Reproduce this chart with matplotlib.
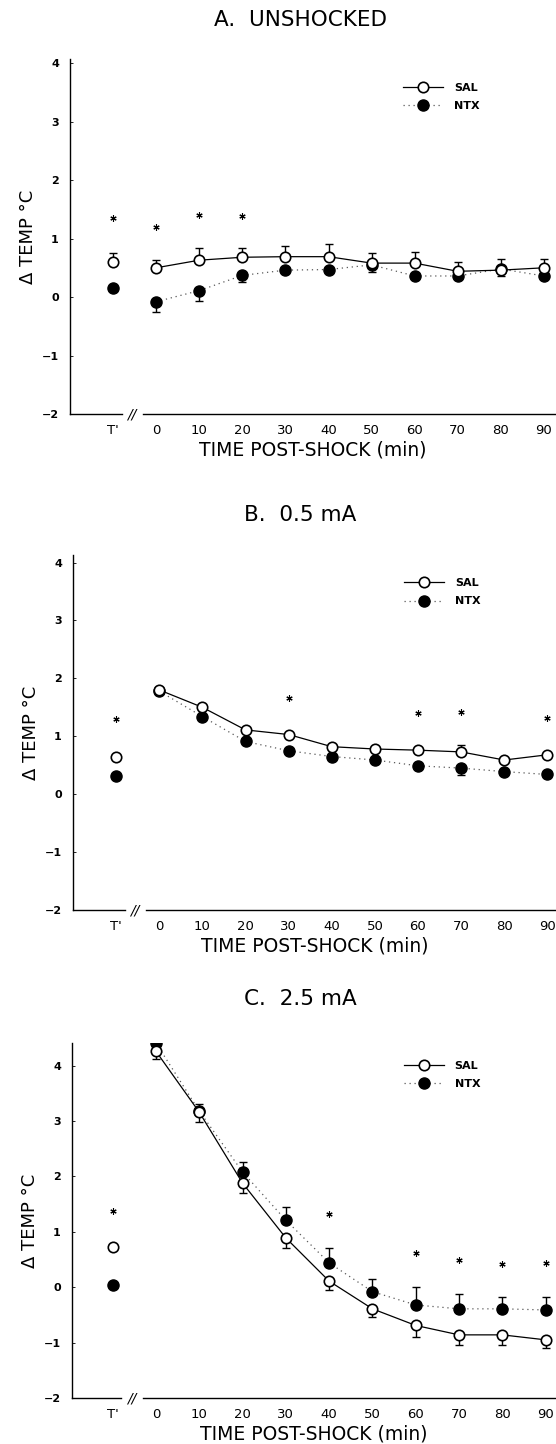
import numpy as np
import matplotlib
matplotlib.use("Agg")
import matplotlib.pyplot as plt
from matplotlib.lines import Line2D

plt.rcParams['font.family'] = ['DejaVu Sans']

# x positions: T' baseline drawn at -10, then 0..90 min post-shock
times = [-10, 0, 10, 20, 30, 40, 50, 60, 70, 80, 90]
tick_labels = ["T'", "0", "10", "20", "30", "40", "50", "60", "70", "80", "90"]

# Panel A - unshocked
a_sal = [0.60, 0.50, 0.63, 0.68, 0.69, 0.69, 0.58, 0.58, 0.44, 0.46, 0.50]
a_sal_err = [0.16, 0.13, 0.20, 0.15, 0.18, 0.21, 0.18, 0.19, 0.16, 0.19, 0.15]
a_ntx = [0.15, -0.08, 0.11, 0.37, 0.46, 0.47, 0.55, 0.36, 0.36, 0.48, 0.36]
a_ntx_err = [0.04, 0.17, 0.17, 0.11, 0.04, 0.04, 0.13, 0.04, 0.04, 0.12, 0.04]
a_star_t = [-10, 0, 10, 20]
a_star_y = [1.35, 1.20, 1.41, 1.38]

# Panel B - 0.5 mA
b_sal = [0.65, 1.80, 1.50, 1.11, 1.03, 0.82, 0.78, 0.76, 0.73, 0.59, 0.68]
b_sal_err = [0.03, 0.03, 0.03, 0.03, 0.03, 0.03, 0.03, 0.03, 0.12, 0.03, 0.03]
b_ntx = [0.31, 1.78, 1.34, 0.91, 0.75, 0.65, 0.59, 0.49, 0.45, 0.39, 0.34]
b_ntx_err = [0.03, 0.03, 0.03, 0.03, 0.03, 0.03, 0.03, 0.03, 0.12, 0.03, 0.03]
b_star_t = [-10, 30, 60, 70, 90]
b_star_y = [1.30, 1.66, 1.40, 1.42, 1.31]

# Panel C - 2.5 mA
c_sal = [0.73, 4.26, 3.16, 1.88, 0.89, 0.11, -0.39, -0.69, -0.86, -0.86, -0.95]
c_sal_err = [0.03, 0.14, 0.17, 0.17, 0.18, 0.16, 0.15, 0.21, 0.18, 0.18, 0.15]
c_ntx = [0.04, 4.41, 3.18, 2.08, 1.21, 0.44, -0.08, -0.32, -0.39, -0.39, -0.41]
c_ntx_err = [0.03, 0.03, 0.12, 0.18, 0.23, 0.27, 0.23, 0.33, 0.27, 0.21, 0.23]
c_star_t = [-10, 40, 60, 70, 80, 90]
c_star_y = [1.38, 1.32, 0.62, 0.50, 0.42, 0.43]

W, H = 556, 1444
fig = plt.figure(figsize=(W / 100, H / 100), dpi=100)


def make_panel(rect_px, xlim, ytop, title, title_y,
               sal, sal_err, ntx, ntx_err, star_t, star_y,
               sal_up=True, legend_y=0.90):
    left, top, right, bottom = rect_px
    ax = fig.add_axes([left / W, 1 - bottom / H, (right - left) / W, (bottom - top) / H])
    ax.set_xlim(*xlim)
    ax.set_ylim(-2, ytop)

    t = np.array(times)
    sal = np.array(sal)
    ntx = np.array(ntx)
    z = np.zeros(len(t))
    if sal_up:
        s_err = [z, np.array(sal_err)]
        n_err = [np.array(ntx_err), z]
    else:
        s_err = [np.array(sal_err), z]
        n_err = [z, np.array(ntx_err)]

    # connecting lines only for the post-shock points
    ax.plot(t[1:], ntx[1:], linestyle=(0, (1, 3)), color='0.35', lw=0.9, zorder=2)
    ax.plot(t[1:], sal[1:], '-', color='black', lw=0.9, zorder=3)

    ax.errorbar(t, ntx, yerr=n_err, fmt='none', ecolor='black', elinewidth=1.0,
                capsize=3.2, capthick=1.0, zorder=4)
    ax.errorbar(t, sal, yerr=s_err, fmt='none', ecolor='black', elinewidth=1.0,
                capsize=3.2, capthick=1.0, zorder=4)
    ax.plot(t, ntx, 'o', ms=8, mfc='black', mec='black', ls='none', zorder=5)
    ax.plot(t, sal, 'o', ms=7.5, mfc='white', mec='black', mew=1.2, ls='none', zorder=6)

    ax.plot(star_t, star_y, ls='none', marker=(6, 2, 0), ms=4.5, color='black', mew=0.8)

    # axes styling
    for s in ['top', 'right', 'bottom']:
        ax.spines[s].set_visible(False)
    ax.spines['left'].set_linewidth(1.0)
    # broken x axis between T' and 0
    tr = ax.get_xaxis_transform()
    ax.plot([xlim[0], -8.0], [0, 0], color='black', lw=1.0, transform=tr, clip_on=False)
    ax.plot([-3.0, xlim[1]], [0, 0], color='black', lw=1.0, transform=tr, clip_on=False)
    ax.text(-5.6, 0.0, '//', transform=tr, ha='center', va='center', fontsize=10,
            fontstyle='italic')

    ax.set_xticks(times)
    ax.set_xticklabels(tick_labels, fontsize=9.5)
    ax.set_yticks([-2, -1, 0, 1, 2, 3, 4])
    ax.set_yticklabels(['\u22122', '\u22121', '0', '1', '2', '3', '4'],
                       fontsize=8, fontweight='bold')
    ax.tick_params(axis='x', length=0, pad=7)
    ax.tick_params(axis='y', length=2, direction='in', pad=8, width=0.6)

    ax.set_xlabel('TIME POST-SHOCK (min)', fontsize=13.5)
    ax.xaxis.set_label_coords(0.5, -0.075)
    ax.set_ylabel('\u0394 TEMP \u00b0C', fontsize=13)
    ax.yaxis.set_label_coords(-0.068, 0.5)

    fig.text(300 / W, 1 - title_y / H, title, ha='center', va='center', fontsize=15.5)

    handles = [
        Line2D([], [], color='black', lw=0.9, marker='o', ms=7.5, mfc='white', mec='black', mew=1.2),
        Line2D([], [], color='0.35', lw=0.9, ls=(0, (1, 3)), marker='o', ms=8, mfc='black', mec='black'),
    ]
    ax.legend(handles, ['SAL', 'NTX'], loc='center left', bbox_to_anchor=(0.685, legend_y),
              frameon=False, handlelength=3.6, handletextpad=1.0,
              labelspacing=0.75, borderpad=0, borderaxespad=0,
              prop={'weight': 'bold', 'size': 8})
    return ax


make_panel((70, 59, 556, 414), (-20, 92.8), 4.07, 'A.  UNSHOCKED', 20,
           a_sal, a_sal_err, a_ntx, a_ntx_err, a_star_t, a_star_y, True, 0.893)
make_panel((73, 555, 556, 910), (-20, 92.0), 4.13, 'B.  0.5 mA', 515,
           b_sal, b_sal_err, b_ntx, b_ntx_err, b_star_t, b_star_y, True, 0.895)
make_panel((72, 1043, 556, 1398), (-19.4, 92.4), 4.41, 'C.  2.5 mA', 999,
           c_sal, c_sal_err, c_ntx, c_ntx_err, c_star_t, c_star_y, False, 0.91)

fig.savefig('out.png', dpi=100)
